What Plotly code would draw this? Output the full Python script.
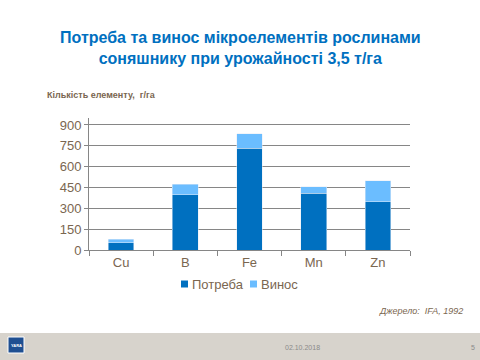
import plotly.graph_objects as go

categories = ["Cu", "B", "Fe", "Mn", "Zn"]
potreba = [53, 396, 734, 410, 346]
vynos = [26, 79, 101, 44, 151]
y_ticks = [0, 150, 300, 450, 600, 750, 900]

W, H = 480, 360
L, R, T, B = 89, 70, 118, 110
PW, PH = W - L - R, H - T - B

def px(x):
    return (x - L) / PW

def py(y):
    return (H - B - y) / PH

txt = "#7a6650"
font = "Liberation Sans, Arial, sans-serif"
c1, c2 = "#0070c0", "#6bbdff"

fig = go.Figure()
fig.add_bar(x=categories, y=potreba, name="Потреба", marker_color=c1, width=0.4)
fig.add_bar(x=categories, y=vynos, name="Винос", marker_color=c2, width=0.4)

fig.update_layout(
    width=W, height=H, barmode="stack",
    margin=dict(l=L, r=R, t=T, b=B),
    plot_bgcolor="white", paper_bgcolor="white",
    font=dict(family=font, color=txt, size=12),
    showlegend=False,
    xaxis=dict(showline=True, linecolor="#868686", linewidth=1, ticks="outside",
               tickson="boundaries", ticklen=5, tickcolor="#868686",
               tickfont=dict(size=13, color=txt), showgrid=False),
    yaxis=dict(range=[0, 950], tickvals=y_ticks, showline=True, linecolor="#868686",
               linewidth=1, ticks="outside", ticklen=4, tickcolor="#868686",
               gridcolor="#868686", gridwidth=1, zeroline=False,
               tickfont=dict(size=13, color=txt)),
)

shapes = [
    dict(type="rect", xref="paper", yref="paper", x0=px(0), x1=px(480), y0=py(333), y1=py(360),
         fillcolor="#d7d3cc", line_width=0, layer="below"),
    dict(type="rect", xref="paper", yref="paper", x0=px(8), x1=px(24), y0=py(337), y1=py(353),
         fillcolor="#1f4f91", line=dict(color="white", width=1)),
    dict(type="rect", xref="paper", yref="paper", x0=px(181), x1=px(188), y0=py(280.5), y1=py(287.5),
         fillcolor=c1, line_width=0),
    dict(type="rect", xref="paper", yref="paper", x0=px(250), x1=px(257), y0=py(280.5), y1=py(287.5),
         fillcolor=c2, line_width=0),
]
fig.update_layout(shapes=shapes)

def ann(x, y, text, size, color=txt, anchor="center"):
    fig.add_annotation(xref="paper", yref="paper", x=px(x), y=py(y), xanchor=anchor, yanchor="middle",
                       text=text, showarrow=False, font=dict(size=size, color=color, family=font))

ann(240, 48, "<b>Потреба та винос мікроелементів рослинами<br>соняшнику при урожайності 3,5 т/га</b>", 16, "#0070c0")
ann(45, 95, "<b>Кількість елементу,  г/га</b>", 9, anchor="left")
ann(190, 284, "Потреба", 13, anchor="left")
ann(259, 284, "Винос", 13, anchor="left")
ann(465, 311, "<i>Джерело:  IFA, 1992</i>", 9, anchor="right")
ann(302, 347, "02.10.2018", 7, "#8a8a8a")
ann(473, 347, "5", 7, "#8a8a8a")
ann(16, 345, "<b>YARA</b>", 4, "white")

fig.write_html("out.html", config={"displayModeBar": False},
               post_script="document.body.style.margin='0';")
